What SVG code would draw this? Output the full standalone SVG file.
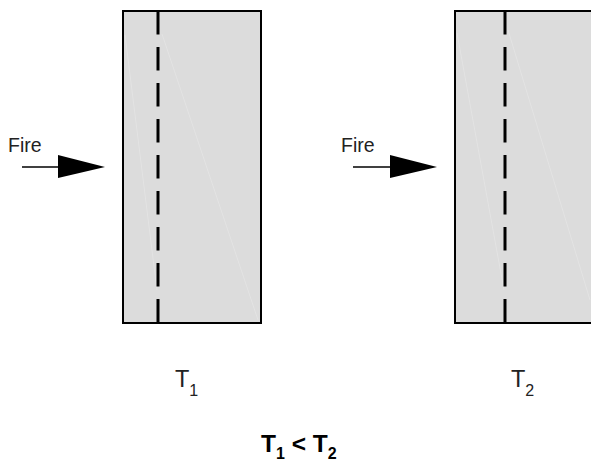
<svg xmlns="http://www.w3.org/2000/svg" width="591" height="464" viewBox="0 0 591 464">
<defs>
<style>
.wall{fill:#dcdcdc;stroke:#000;stroke-width:2}
.rebar{stroke:#000;stroke-width:3;stroke-dasharray:23.5 12.5;fill:none}
.streak{stroke:#fff;stroke-opacity:0.3;stroke-width:0.7;fill:none}
.shaft{stroke:#000;stroke-width:1.5;fill:none}
.head{fill:#000}
.lbl{font-family:"Liberation Sans",Arial,sans-serif;fill:#222}
</style>
</defs>
<rect width="591" height="464" fill="#fff"/>
<g id="wall1">
<rect class="wall" x="123" y="11" width="138" height="312"/>
<line class="streak" x1="125" y1="35" x2="157" y2="290"/>
<line class="streak" x1="162" y1="34" x2="258" y2="320"/>
<line class="rebar" x1="158" y1="11" x2="158" y2="323"/>
</g>
<g id="wall2">
<rect class="wall" x="455" y="11" width="140" height="312"/>
<line class="streak" x1="457" y1="33" x2="504" y2="290"/>
<line class="streak" x1="508" y1="30" x2="590" y2="300"/>
<line class="rebar" x1="505" y1="11" x2="505" y2="323"/>
</g>
<g id="connectors">
<line class="shaft" x1="22" y1="167" x2="60" y2="167"/>
<polygon class="head" points="58,155 105,167 58,178"/>
<line class="shaft" x1="353" y1="167" x2="392" y2="167"/>
<polygon class="head" points="390,155 437,167 390,178"/>
</g>
<g id="labels" class="lbl">
<text x="8" y="152" font-size="19.5">Fire</text>
<text x="341" y="152" font-size="19.5">Fire</text>
<text x="175" y="387" font-size="23.5">T<tspan font-size="16" dy="8.5">1</tspan></text>
<text x="511" y="387" font-size="23.5">T<tspan font-size="16" dy="8.5">2</tspan></text>
<text x="261" y="452" font-size="24.5" font-weight="bold" fill="#000">T<tspan font-size="16" dy="7">1</tspan><tspan dy="-7"> &lt; T</tspan><tspan font-size="16" dy="7">2</tspan></text>
</g>
</svg>
